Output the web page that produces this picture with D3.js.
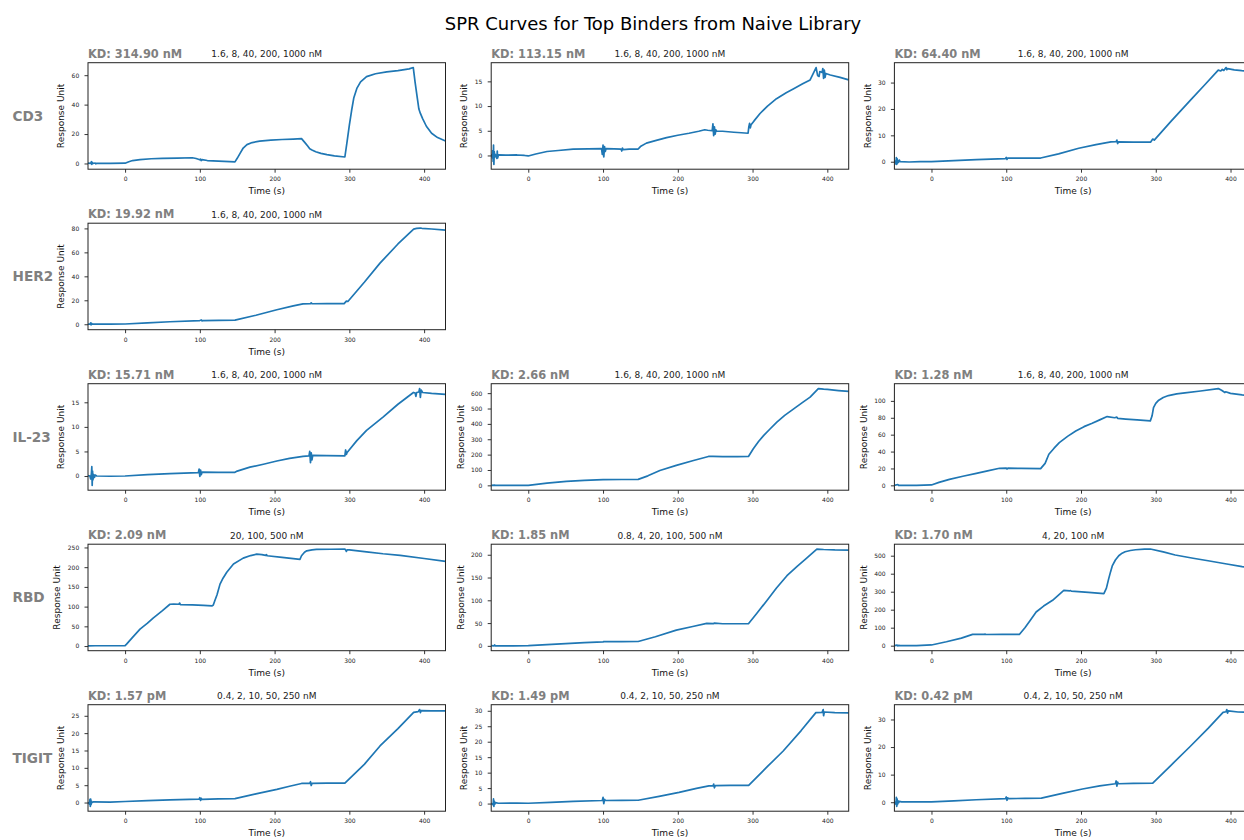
<!DOCTYPE html>
<html>
<head>
<meta charset="utf-8">
<script src="https://cdn.jsdelivr.net/npm/d3@7"></script>
<style>
body { margin: 0; background: #fff; }
svg { display: block; font-family: "DejaVu Sans", sans-serif; }
</style>
</head>
<body>
<div id="chart"></div>
<script>
// sensorgram traces, [time (s), response unit]
var cd3A = [[-49.6,0.2],[-46,0.1],[-45,1.2],[-44.5,-0.6],[-44,0.8],[-43,0],[-40,0.3],[-39,-0.2],[-38,0.1],[-20,0.1],[0,0.2],[5,1.2],[10,2.0],[20,2.6],[35,3.2],[50,3.5],[70,3.7],[90,3.9],[95,3.4],[100,2.5],[101,3.0],[102,2.0],[103,2.6],[110,2.0],[125,1.6],[140,1.3],[147,1.1],[150,3.5],[154,7],[158,10.5],[163,12.8],[170,14.2],[180,15.2],[195,15.9],[210,16.3],[225,16.6],[236,16.9],[240,14.5],[244,12],[247,10],[250,9.2],[255,8],[262,6.9],[270,6],[280,5.2],[294,4.4],[297,15],[300,26],[303,36],[306,44.7],[310,51],[315,55.5],[323,59],[335,61],[350,62.3],[365,63.1],[380,64.3],[385.5,65.2],[388,55],[391,44],[393,37],[395,34],[398,30.5],[403,25.3],[410,20.5],[418,17.6],[428.6,15.3]];
var cd3B = [[-49.6,0.3],[-48,-0.5],[-47.5,1.0],[-47,-1.2],[-46.5,2.1],[-46,-1.8],[-45.5,0.8],[-45,-0.3],[-44,0.2],[-42,-0.6],[-41.5,0.9],[-41,-0.5],[-40,0.1],[-30,0.05],[-15,0.1],[-5,0],[0,-0.1],[10,0.3],[25,0.8],[40,1.0],[60,1.3],[80,1.35],[98,1.4],[99,0.2],[100,2.1],[101,-0.3],[102,1.8],[103,0.8],[104,1.4],[115,1.35],[124,1.3],[125,0.9],[126,1.5],[127,1.2],[135,1.3],[147,1.3],[150,1.8],[158,2.5],[170,3.0],[185,3.6],[200,4.1],[215,4.5],[228,4.9],[236,5.2],[240,5.1],[246,5.0],[247,6.4],[248,4.0],[249,5.8],[250,4.3],[251,5.2],[252,4.9],[260,4.9],[275,4.7],[285,4.6],[294,4.5],[295,5.8],[296,6.5],[297,5.6],[298,6.2],[302,7.0],[310,8.5],[320,10.0],[332,11.5],[345,12.7],[355,13.5],[367,14.5],[377,15.3],[385,17.8],[387,16.2],[389,16.0],[390,17.0],[393,16.8],[394,17.6],[395,15.6],[396,17.3],[397,15.8],[398,16.6],[404,16.3],[417,15.8],[428.6,15.3]];
var cd3C = [[-49.6,0],[-48,0.3],[-47.5,-0.9],[-47,1.6],[-46.5,-1.0],[-46,1.2],[-45.5,-0.5],[-45,0.5],[-44,-0.2],[-43,0.6],[-42,0],[-30,-0.1],[-15,0],[0,0.05],[30,0.4],[60,0.8],[99,1.2],[100,1.6],[101,0.9],[102,1.4],[120,1.4],[146,1.4],[170,3.0],[197,5.1],[220,6.5],[240,7.5],[247,7.6],[248,8.2],[249,6.9],[250,7.5],[270,7.4],[293,7.4],[296,8.6],[298,8.2],[320,15.2],[348,23.8],[365,29],[383.6,34.7],[387,34.4],[389,35.0],[391,34.6],[394,35.7],[395,34.9],[396,35.3],[405,34.8],[415,34.5],[428.6,34.3]];
var her2A = [[-49.6,0.2],[-47,0],[-46,1.2],[-45.5,-0.5],[-45,0.8],[-44,0.1],[-40,0.2],[-20,0.1],[0,0.2],[30,1.2],[60,2.1],[100,3.1],[102,3.6],[103,2.8],[104,3.1],[125,3.3],[147,3.4],[175,7.5],[203,12.1],[225,15.3],[238,17.0],[248,17.2],[249,17.9],[250,17.1],[270,17.3],[293,17.2],[296,19.3],[298,19.0],[320,35],[341,51],[365,67],[386,79.4],[390,80.0],[395,80.3],[397,80.1],[410,79.5],[428.6,78.5]];
var il23A = [[-49.6,0.1],[-47,0],[-46,-0.6],[-45,0.6],[-44.5,1.9],[-44,-1.9],[-43.5,1.0],[-43,-0.8],[-42,0.3],[-41,-0.3],[-40,0.2],[-38,0],[-20,-0.05],[0,0],[30,0.3],[60,0.5],[98,0.7],[99,1.4],[100,-0.1],[101,1.2],[102,0.3],[103,0.8],[125,0.75],[147,0.75],[150,1.0],[167,1.8],[185,2.4],[203,3.05],[220,3.6],[238,4.0],[246,4.1],[247,5.0],[248,2.7],[249,4.7],[250,3.3],[251,4.2],[270,4.15],[294,4.1],[295,5.3],[296,4.4],[297,4.8],[310,7.2],[323,9.3],[345,12],[365,14.6],[385.7,17.0],[388,16.9],[389,16.2],[390,17.0],[393,17.1],[394,17.8],[395,16.0],[396,17.5],[398,17.0],[410,16.8],[428.6,16.6]];
var il23B = [[-49.6,0],[-45,1],[-44,0],[-20,0],[0,0],[25,14],[51,26],[75,33],[100,37],[125,38],[147,39],[160,62],[176,97],[198,130],[221,162],[241,188],[247,189],[260,187],[280,187],[294.5,188],[301,238],[308,285],[315,325],[323,365],[332.5,411],[343,455],[355,498],[367,540],[377,574],[388,630],[395,626],[400,624],[415,617],[428.6,611]];
var il23C = [[-49.6,0],[-45,1],[-44,0],[-20,0],[0,0.5],[10,3.5],[24,7.1],[42,10.8],[60,14.2],[75,17.2],[91,20.2],[100,20.5],[101,19.3],[102,20.3],[120,20],[146,19.8],[152,26],[157,36.8],[164,44],[171,50.6],[182,58],[193,64.4],[204,69.5],[215,73.5],[225,77.5],[235,81.4],[245,80],[248,80.8],[249,79.4],[260,78.5],[275,77.5],[292.7,76.3],[295,82],[297,92],[300,97],[304,100.8],[310,104],[317,106.3],[328,108.3],[339,109.5],[360,111.7],[383.6,114.6],[388,112.5],[392.5,109.9],[393.5,110.8],[400,108.9],[415.5,107.1],[428.6,106]];
var rbdA = [[-49.6,0.5],[-40,0.8],[-20,0.8],[0,1],[2,5],[10,22],[20,43],[30,58],[37.5,71],[50,90],[60,106],[65,106.5],[72,106],[73,109],[74,105],[90,104.5],[105,103.3],[116.5,102],[118,104],[120,115],[123,130],[127,157],[131,172],[136,187],[145,208],[158,223],[168,229.5],[176,233],[183,232],[188,230],[189,232],[190,229],[210,225],[234,220],[236,229],[240,238],[243,241.5],[250,244],[256,245],[275,245.5],[294,246],[295,244],[296,240],[297,244],[300,244],[323,239],[345,234],[368,230],[400,222],[428.6,214.5]];
var rbdB = [[-49.6,0.3],[-46,0],[-45,2],[-44,0],[-20,0],[0,0.7],[25,2.5],[50,4.8],[75,7],[100,8.8],[101,9.3],[125,9.3],[147,9.6],[170,20],[198,34.6],[220,42.5],[238.7,49.3],[248,49],[249,50],[260,48.5],[294.5,48.5],[305,70],[319,99],[332,127],[346,154],[360,175],[372,192],[386,212.5],[395,211.5],[410,210.5],[428.6,210]];
var rbdC = [[-49.6,0],[-46,3],[-45,-1],[-44,2],[-42,0],[-20,0],[0,4],[20,22],[40,42],[55,62.5],[70,63],[72,64],[73,62],[95,62.5],[117.5,62.5],[125,100],[132,140],[140,187],[150,220],[162,252],[177,307],[185,305],[186,306],[187,303],[210,296],[230.6,289],[234,320],[237,371],[239.5,410],[242,445],[246,476],[250.5,500],[255,514],[259,522],[266,529],[273,533],[285,536],[292.7,537],[310,521],[326,504],[350,486],[370,472],[395,454],[415.5,439],[428.6,432]];
var tigitA = [[-49.6,0.1],[-47.5,-0.5],[-47,0.9],[-46.5,-1.1],[-46,1.0],[-45.5,-0.6],[-45,0.4],[-44,0],[-42,0.2],[-20,0.1],[0,0.3],[30,0.55],[60,0.75],[99,1.0],[100,1.4],[101,0.6],[102,1.2],[103,0.9],[125,1.05],[147,1.15],[175,2.5],[203,3.8],[220,4.7],[236,5.5],[247,5.5],[248,6.0],[249,4.9],[250,5.5],[270,5.6],[294,5.6],[320,11],[341,16.3],[365,21.3],[386,26.0],[392,26.2],[394,26.8],[395,25.9],[396,26.5],[410,26.4],[428.6,26.4]];
var tigitB = [[-49.6,0.1],[-47,-0.4],[-46.5,1.5],[-46,-0.9],[-45.5,0.8],[-45,-0.3],[-44,0.3],[-40,0.1],[-15,0.15],[0,0.1],[30,0.4],[60,0.7],[99,1.0],[100,2.0],[101,0.0],[102,1.4],[103,1.0],[125,1.05],[147,1.07],[175,2.3],[201.7,3.6],[225,4.9],[241.6,5.7],[247,5.7],[248,6.3],[249,5.1],[250,5.8],[270,5.9],[294.8,5.9],[320,12],[341,17],[365,23.6],[384.7,29.4],[393,29.5],[394.5,30.4],[395,28.4],[396,29.6],[410,29.4],[428.6,29.3]];
var tigitC = [[-49.6,0.2],[-47.5,-0.8],[-47,1.8],[-46.5,-1.5],[-46,1.2],[-45.5,-0.9],[-45,0.6],[-44,-0.2],[-43,0.3],[-40,0.1],[-15,0.1],[0,0.1],[30,0.5],[60,0.9],[99,1.3],[100,1.9],[101,0.7],[102,1.6],[103,1.3],[125,1.4],[147,1.5],[175,3.2],[202,4.8],[225,5.9],[246,6.7],[247,7.7],[248,5.8],[249,7.3],[250,6.7],[270,6.85],[296,6.9],[320,13.3],[346,20.2],[370,26.8],[390,32.6],[394,32.8],[395,33.6],[396,32.3],[397,33.1],[410,32.7],[428.6,32.6]];

var targets = ["CD3", "HER2", "IL-23", "RBD", "TIGIT"];
var panelTarget = ["CD3", "CD3", "CD3", "HER2", "IL-23", "IL-23", "IL-23", "RBD", "RBD", "RBD", "TIGIT", "TIGIT", "TIGIT"];
var panelData = [cd3A, cd3B, cd3C, her2A, il23A, il23B, il23C, rbdA, rbdB, rbdC, tigitA, tigitB, tigitC];
var kdLabels = ["KD: 314.90 nM", "KD: 113.15 nM", "KD: 64.40 nM", "KD: 19.92 nM", "KD: 15.71 nM", "KD: 2.66 nM", "KD: 1.28 nM",
                "KD: 2.09 nM", "KD: 1.85 nM", "KD: 1.70 nM", "KD: 1.57 pM", "KD: 1.49 pM", "KD: 0.42 pM"];
var concLabels = ["1.6, 8, 40, 200, 1000 nM", "1.6, 8, 40, 200, 1000 nM", "1.6, 8, 40, 200, 1000 nM", "1.6, 8, 40, 200, 1000 nM",
                  "1.6, 8, 40, 200, 1000 nM", "1.6, 8, 40, 200, 1000 nM", "1.6, 8, 40, 200, 1000 nM",
                  "20, 100, 500 nM", "0.8, 4, 20, 100, 500 nM", "4, 20, 100 nM",
                  "0.4, 2, 10, 50, 250 nM", "0.4, 2, 10, 50, 250 nM", "0.4, 2, 10, 50, 250 nM"];
var yTicks = [[0, 20, 40, 60], [0, 5, 10, 15], [0, 10, 20, 30], [0, 20, 40, 60, 80], [0, 5, 10, 15],
              [0, 100, 200, 300, 400, 500, 600], [0, 20, 40, 60, 80, 100], [0, 50, 100, 150, 200, 250],
              [0, 50, 100, 150, 200], [0, 100, 200, 300, 400, 500], [0, 5, 10, 15, 20, 25],
              [0, 5, 10, 15, 20, 25, 30], [0, 10, 20, 30]];
var xTicks = [0, 100, 200, 300, 400];
var xRange = [-49.6, 428.6];
var title = "SPR Curves for Top Binders from Naive Library";

var W = 1244, H = 840;
var left0 = 88, top0 = 62.7, colStep = 403.2, rowStep = 160.5;
var pw = 357.5, ph = 106.5;
var blue = "#1f77b4";

var svg = d3.select("#chart").append("svg")
    .attr("width", W)
    .attr("height", H);

svg.append("text")
    .attr("x", 653)
    .attr("y", 30)
    .attr("text-anchor", "middle")
    .style("font-size", "18px")
    .attr("fill", "#000")
    .text(title);

targets.forEach(function(t, r) {
    svg.append("text")
        .attr("x", 12.5)
        .attr("y", top0 + r * rowStep + ph / 2 + 4.8)
        .style("font-size", "13.6px")
        .style("font-weight", "bold")
        .attr("fill", "#808080")
        .text(t);
});

var colCount = {};
panelData.forEach(function(data, i) {
    var tgt = panelTarget[i];
    var r = targets.indexOf(tgt);
    var c = colCount[tgt] || 0;
    colCount[tgt] = c + 1;

    var g = svg.append("g")
        .attr("transform", "translate(" + (left0 + c * colStep) + "," + (top0 + r * rowStep) + ")");

    var x = d3.scaleLinear().domain(xRange).range([0, pw]);
    // matplotlib-style autoscale: data extent plus 5% on each side
    var ext = d3.extent(data, function(d) { return d[1]; });
    var pad = (ext[1] - ext[0]) * 0.05;
    var y = d3.scaleLinear().domain([ext[0] - pad, ext[1] + pad]).range([ph, 0]);

    g.append("clipPath").attr("id", "clip" + i)
      .append("rect").attr("width", pw).attr("height", ph);

    g.append("path")
        .datum(data)
        .attr("clip-path", "url(#clip" + i + ")")
        .attr("fill", "none")
        .attr("stroke", blue)
        .attr("stroke-width", 1.7)
        .attr("stroke-linejoin", "round")
        .attr("d", d3.line()
            .x(function(d) { return x(d[0]); })
            .y(function(d) { return y(d[1]); }));

    var xa = g.append("g")
        .attr("transform", "translate(0," + ph + ")")
        .call(d3.axisBottom(x).tickValues(xTicks).tickSize(3.5).tickPadding(4.2).tickSizeOuter(0));
    var ya = g.append("g")
        .call(d3.axisLeft(y).tickValues(yTicks[i]).tickSize(3.5).tickPadding(5.3).tickSizeOuter(0));
    [xa, ya].forEach(function(a) {
        a.select(".domain").remove();
        a.attr("font-family", null).attr("font-size", null);
        a.selectAll("text").style("font-size", "6px").attr("fill", "#222");
        a.selectAll("line").attr("stroke", "#000").attr("stroke-width", 0.8);
    });

    g.append("rect")
        .attr("width", pw)
        .attr("height", ph)
        .attr("fill", "none")
        .attr("stroke", "#222")
        .attr("stroke-width", 1);

    var minX = d3.min(ya.selectAll(".tick text").nodes(), function(n) { return n.getBBox().x; });

    g.append("text")
        .attr("transform", "rotate(-90)")
        .attr("x", -ph / 2)
        .attr("y", minX - 10.5)
        .attr("dy", "0.35em")
        .attr("text-anchor", "middle")
        .style("font-size", "9px")
        .attr("fill", "#111")
        .text("Response Unit");

    g.append("text")
        .attr("x", pw / 2)
        .attr("y", ph + 25)
        .attr("text-anchor", "middle")
        .style("font-size", "9px")
        .attr("fill", "#111")
        .text("Time (s)");

    g.append("text")
        .attr("x", 0)
        .attr("y", -5.2)
        .style("font-size", "11.4px")
        .style("font-weight", "bold")
        .attr("fill", "#808080")
        .text(kdLabels[i]);

    g.append("text")
        .attr("x", pw / 2)
        .attr("y", -5.5)
        .attr("text-anchor", "middle")
        .style("font-size", "9px")
        .attr("fill", "#222")
        .text(concLabels[i]);
});
</script>
</body>
</html>
